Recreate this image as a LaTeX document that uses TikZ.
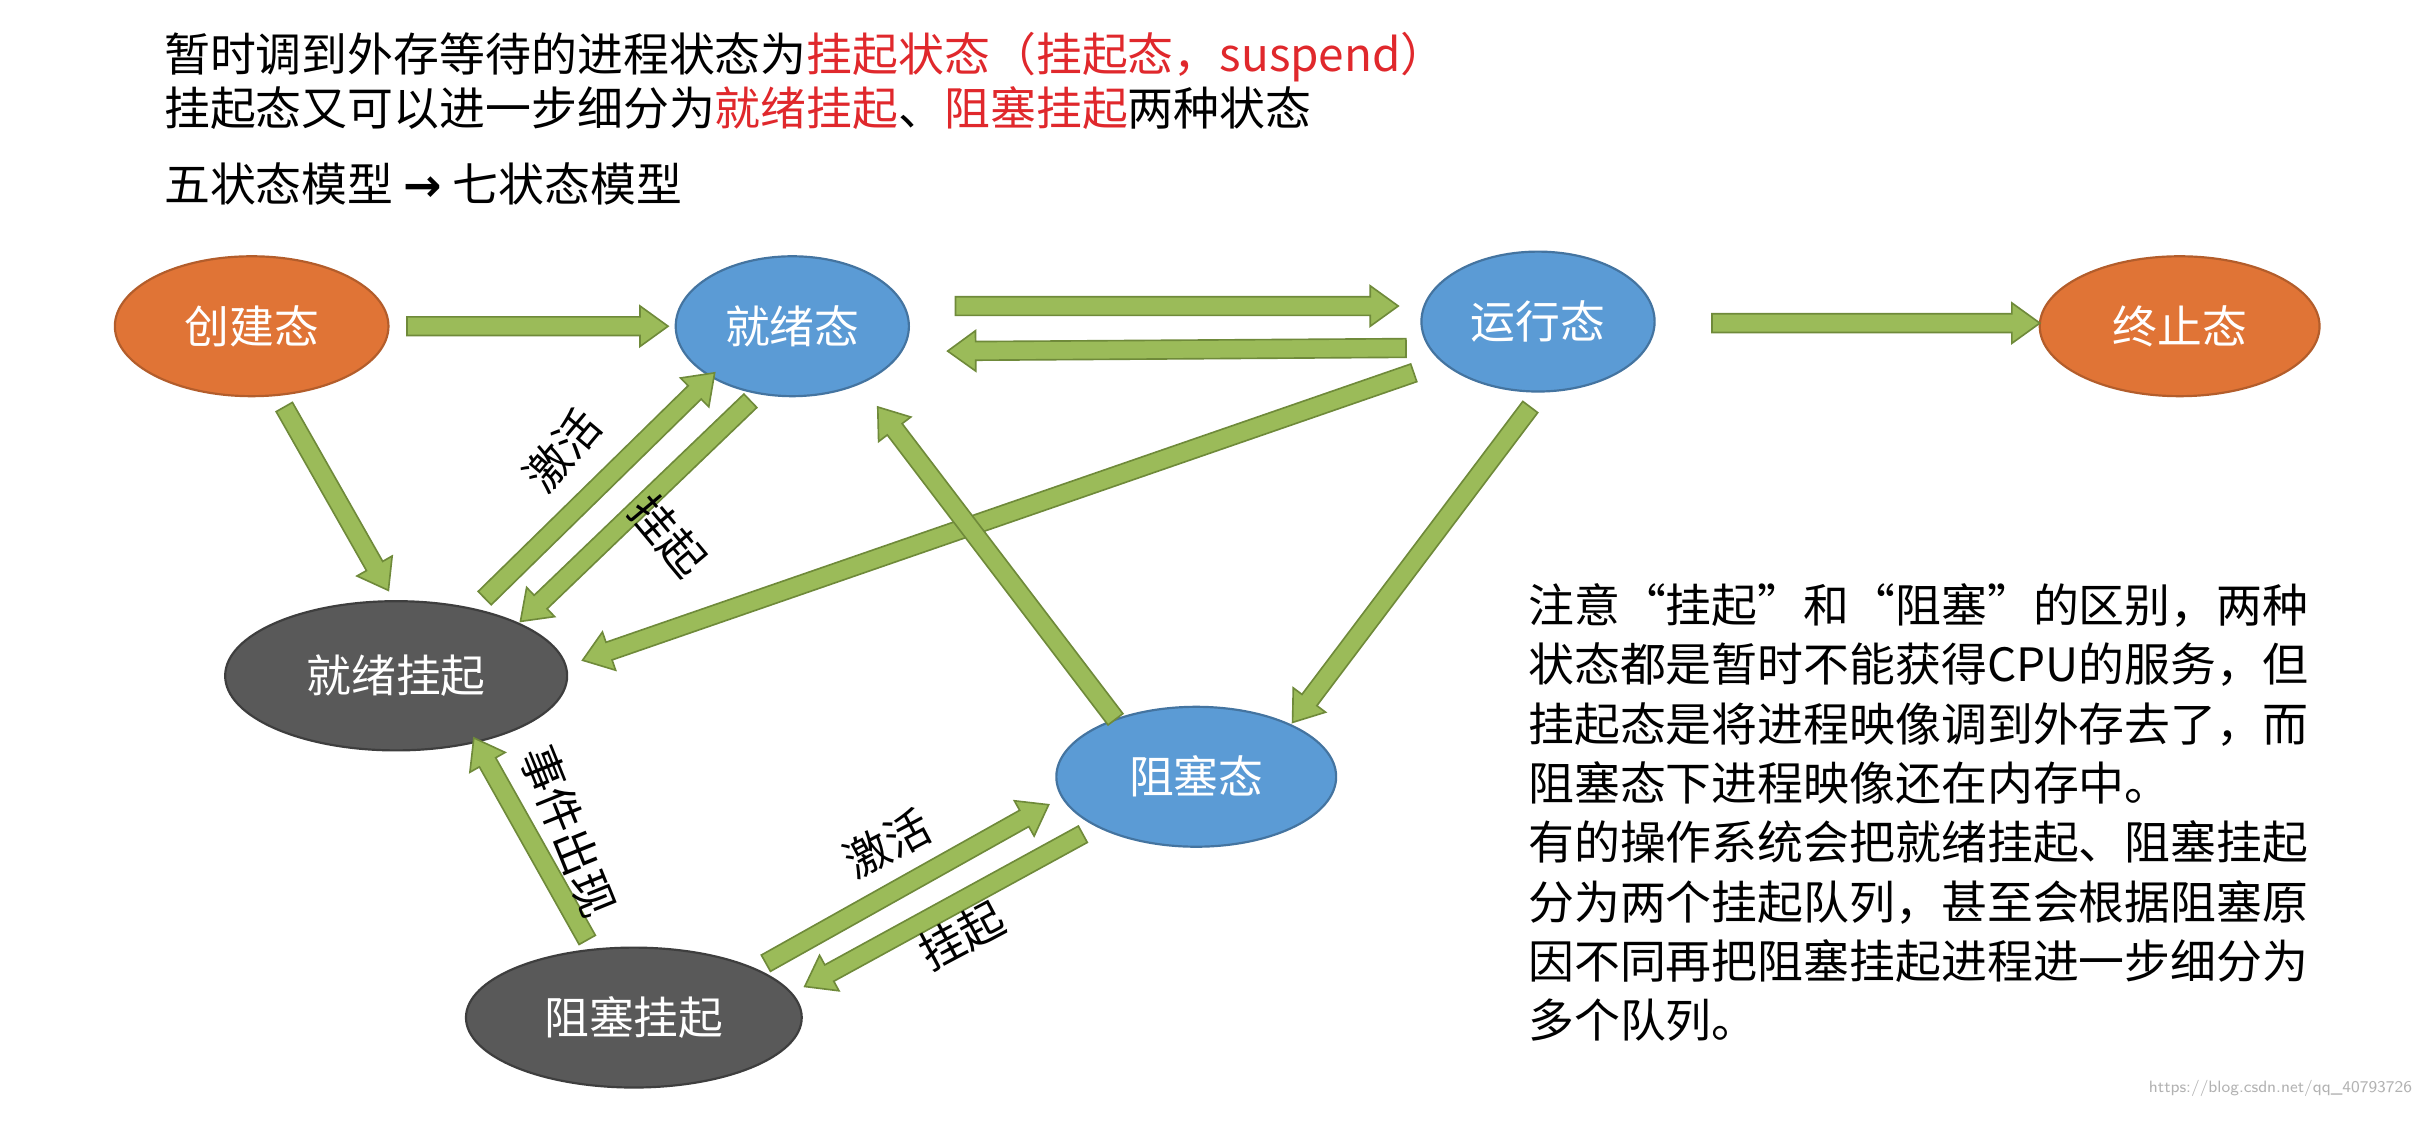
\documentclass[tikz,border=0pt]{standalone}
\usepackage{fontspec}
\newfontfamily\cjk{Noto Sans CJK SC}
\newfontfamily\dv{DejaVu Sans}
\usetikzlibrary{shapes.geometric,calc}
\definecolor{org}{HTML}{E07436}
\definecolor{blu}{HTML}{5B9BD5}
\definecolor{gry}{HTML}{595959}
\definecolor{grn}{HTML}{9BBB59}
\definecolor{grnd}{HTML}{6F8A3A}
\definecolor{red1}{HTML}{E0282C}
\tikzset{
 st/.style={ellipse,inner sep=0pt,text=white,font=\cjk\fontsize{8.2}{9}\selectfont},
 so/.style={st,fill=org,draw=org!80!black},
 sb/.style={st,fill=blu,draw=blu!75!black},
 sg/.style={st,fill=gry,draw=gry!70!black},
 blkst/.style={fill=grn,draw=grnd,line width=0.3pt,line join=miter},
 lab/.style={font=\cjk\fontsize{8.2}{9}\selectfont},
 para/.style={font=\cjk\fontsize{8.4}{10.85}\selectfont,align=left,anchor=north west,inner sep=0pt}
}
\newcommand\blk[2]{%
 \coordinate (bp) at ($(#2)!0.18cm!(#1)$);
 \draw[blkst] ($(#1)!0.06cm!90:(#2)$) -- ($(bp)!0.06cm!-90:(#1)$) -- ($(bp)!0.13cm!-90:(#1)$) -- (#2) -- ($(bp)!0.13cm!90:(#1)$) -- ($(bp)!0.06cm!90:(#1)$) -- ($(#1)!0.06cm!-90:(#2)$) -- cycle;}
\begin{document}
\begin{tikzpicture}[x=0.01cm,y=-0.01cm]
\fill[white] (0,0) rectangle (1568,722);
\useasboundingbox (0,0) rectangle (1568,722);
% top text
\node[para] (t1) at (105,20) {暂时调到外存等待的进程状态为{\color{red1}挂起状态（挂起态，suspend）}};
\node[para] (t2) at (105,55) {挂起态又可以进一步细分为{\color{red1}就绪挂起}、{\color{red1}阻塞挂起}两种状态};
\node[para] (t3) at (105,104) {五状态模型 {\dv\bfseries →} 七状态模型};
% states
\node[so,minimum width=1.76cm,minimum height=0.9cm] (cj) at (162,210) {创建态};
\node[sb,minimum width=1.5cm,minimum height=0.9cm] (jx) at (510,210) {就绪态};
\node[sb,minimum width=1.5cm,minimum height=0.9cm] (yx) at (990,207) {运行态};
\node[so,minimum width=1.8cm,minimum height=0.9cm] (zz) at (1403,210) {终止态};
\node[sg,minimum width=2.2cm,minimum height=0.96cm] (jg) at (255,435) {就绪挂起};
\node[sb,minimum width=1.8cm,minimum height=0.9cm] (zs) at (770,500) {阻塞态};
\node[sg,minimum width=2.16cm,minimum height=0.9cm] (zg) at (408,655) {阻塞挂起};
% arrow endpoints
\coordinate (a1s) at (262,210); \coordinate (a1e) at (430,210);
\coordinate (a2s) at (615,197); \coordinate (a2e) at (900,197);
\coordinate (a3s) at (905,224); \coordinate (a3e) at (610,226);
\coordinate (a4s) at (1102,208); \coordinate (a4e) at (1313,208);
\coordinate (a5s) at (183,262); \coordinate (a5e) at (250,380);
\coordinate (a6s) at (312,385); \coordinate (a6e) at (460,240);
\coordinate (a7s) at (483,258); \coordinate (a7e) at (335,400);
\coordinate (a8s) at (910,240); \coordinate (a8e) at (375,425);
\coordinate (a9s) at (985,262); \coordinate (a9e) at (832,465);
\coordinate (a10s) at (718,463); \coordinate (a10e) at (565,262);
\coordinate (a11s) at (378,605); \coordinate (a11e) at (305,475);
\coordinate (a12s) at (493,620); \coordinate (a12e) at (675,518);
\coordinate (a13s) at (697,537); \coordinate (a13e) at (518,635);
\blk{a1s}{a1e}\blk{a2s}{a2e}\blk{a3s}{a3e}\blk{a4s}{a4e}\blk{a5s}{a5e}
\blk{a6s}{a6e}\blk{a7s}{a7e}\blk{a8s}{a8e}\blk{a9s}{a9e}\blk{a10s}{a10e}
\blk{a11s}{a11e}\blk{a12s}{a12e}\blk{a13s}{a13e}
% labels
\node[lab,rotate=50] (l1) at (362,290) {激活};
\node[lab,rotate=-50] (l2) at (430,345) {挂起};
\node[lab,rotate=-68] (l3) at (366,535) {事件出现};
\node[lab,rotate=28] (l4) at (571,543) {激活};
\node[lab,rotate=28] (l5) at (619,602) {挂起};
% right paragraph
\node[para] (p) at (983,375) {注意“挂起”和“阻塞”的区别，两种\\状态都是暂时不能获得CPU的服务，但\\挂起态是将进程映像调到外存去了，而\\阻塞态下进程映像还在内存中。\\有的操作系统会把就绪挂起、阻塞挂起\\分为两个挂起队列，甚至会根据阻塞原\\因不同再把阻塞挂起进程进一步细分为\\多个队列。};
\node[font=\sffamily\fontsize{3}{3}\selectfont,text=gray!60,anchor=south east] (wm) at (1565,718) {https://blog.csdn.net/qq\_40793726};
\end{tikzpicture}
\end{document}
